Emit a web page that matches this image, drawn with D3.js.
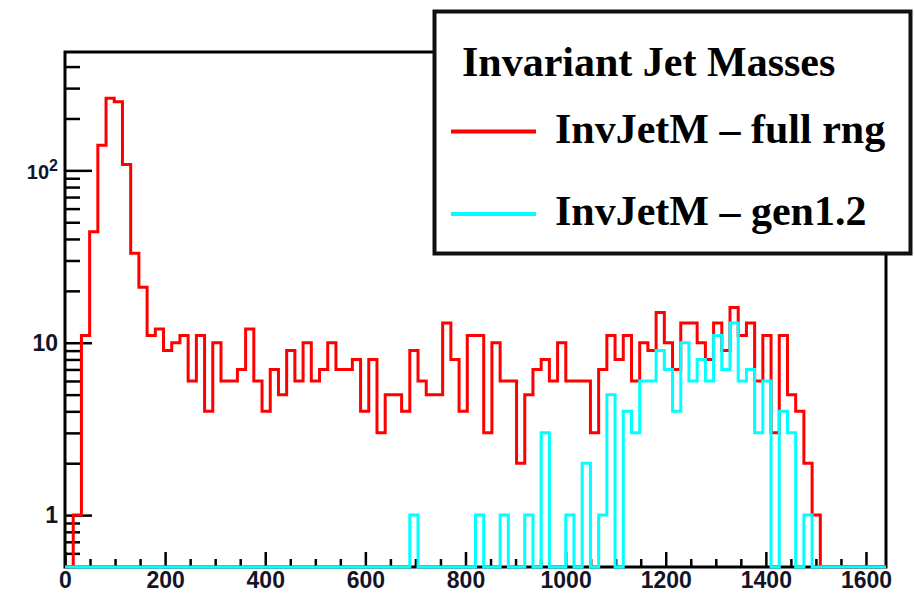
<!DOCTYPE html>
<html>
<head>
<meta charset="utf-8">
<script src="https://cdn.jsdelivr.net/npm/d3@7"></script>
<style>
  body { margin: 0; background: #fff; }
  svg { display: block; }
</style>
</head>
<body>
<svg id="chart" width="914" height="593"></svg>
<script>
// histogram binning
var nBins = 100, xLow = 0, xHigh = 1640;

// bin contents (0 = empty bin)
var fullRng = [0, 1, 11, 44, 140, 262, 250, 108, 33, 21,
  11, 12, 9, 10, 11, 6, 11, 4, 10, 6,
  6, 7, 12, 6, 4, 7, 5, 9, 6, 10,
  6, 7, 10, 7, 7, 8, 4, 8, 3, 5,
  5, 4, 9, 6, 5, 5, 13, 8, 4, 11,
  11, 3, 10, 6, 6, 2, 5, 7, 8, 6,
  10, 6, 6, 6, 3, 7, 11, 8, 11, 6,
  10, 9, 15, 10, 7, 13, 13, 10, 8, 13,
  9, 16, 11, 13, 6, 11, 3, 11, 5, 4,
  2, 1, 0, 0, 0, 0, 0, 0, 0, 0];

var gen12 = [0, 0, 0, 0, 0, 0, 0, 0, 0, 0,
  0, 0, 0, 0, 0, 0, 0, 0, 0, 0,
  0, 0, 0, 0, 0, 0, 0, 0, 0, 0,
  0, 0, 0, 0, 0, 0, 0, 0, 0, 0,
  0, 0, 1, 0, 0, 0, 0, 0, 0, 0,
  1, 0, 0, 1, 0, 0, 1, 0, 3, 0,
  0, 1, 0, 2, 0, 1, 5, 0, 4, 3,
  6, 6, 9, 7, 4, 10, 6, 8, 6, 11,
  7, 13, 6, 7, 3, 6, 0, 4, 3, 0,
  1, 0, 0, 0, 0, 0, 0, 0, 0, 0];

var seriesNames = ["InvJetM \u2013 full rng", "InvJetM \u2013 gen1.2"];
var seriesColors = ["#ff0000", "#00ffff"];
var legendTitle = "Invariant Jet Masses";

var xMajor = [0, 200, 400, 600, 800, 1000, 1200, 1400, 1600];
var xMinor = d3.range(0, 1641, 50).filter(function(d) { return d % 200 !== 0; });
var yMajor = [1, 10, 100];
var yMinor = [0.6, 0.7, 0.8, 0.9, 2, 3, 4, 5, 6, 7, 8, 9,
  20, 30, 40, 50, 60, 70, 80, 90, 200, 300, 400];

var yMin = 0.5, yMax = 486;

var frame = {left: 65, right: 886, top: 52, bottom: 567};

var svg = d3.select("#chart");

var x = d3.scaleLinear()
    .domain([xLow, xHigh])
    .range([frame.left, frame.right]);

var y = d3.scaleLog()
    .domain([yMin, yMax])
    .range([frame.bottom, frame.top]);

var binW = (xHigh - xLow) / nBins;

// frame
svg.append("rect")
    .attr("x", frame.left)
    .attr("y", frame.top)
    .attr("width", frame.right - frame.left)
    .attr("height", frame.bottom - frame.top)
    .attr("fill", "none")
    .attr("stroke", "#000")
    .attr("stroke-width", 3);

// y axis: minor then major ticks, pointing inwards
var yMinorAxis = svg.append("g")
    .attr("transform", "translate(" + frame.left + ",0)")
    .call(d3.axisLeft(y).tickValues(yMinor).tickSize(-15).tickFormat(""));

var yMajorAxis = svg.append("g")
    .attr("transform", "translate(" + frame.left + ",0)")
    .call(d3.axisLeft(y).tickValues(yMajor).tickSize(-27).tickPadding(7)
      .tickFormat(function(d) { return d === 100 ? "" : d; }));

// x axis
var xMinorAxis = svg.append("g")
    .attr("transform", "translate(0," + frame.bottom + ")")
    .call(d3.axisBottom(x).tickValues(xMinor).tickSize(-8).tickFormat(""));

var xMajorAxis = svg.append("g")
    .attr("transform", "translate(0," + frame.bottom + ")")
    .call(d3.axisBottom(x).tickValues(xMajor).tickSize(-15).tickPadding(5)
      .tickFormat(d3.format("d")));

svg.selectAll(".domain").remove();
svg.selectAll(".tick line")
    .attr("stroke", "#000")
    .attr("stroke-width", 2.5);

svg.selectAll(".tick text")
    .attr("font-family", "'Liberation Sans', Arial, sans-serif")
    .attr("font-weight", "bold")
    .attr("font-size", 23)
    .attr("fill", "#141428");

// 10^2 label with superscript
var hundred = yMajorAxis.selectAll(".tick").filter(function(d) { return d === 100; })
  .select("text")
    .attr("dy", "0.42em")
    .attr("font-size", 20);
hundred.append("tspan").text("10");
hundred.append("tspan")
    .attr("font-size", 16)
    .attr("dy", -8)
    .text("2");

// histograms as step lines
var line = d3.line()
    .x(function(d) { return x(d[0]); })
    .y(function(d) { return y(Math.max(d[1], yMin)); })
    .curve(d3.curveStepAfter);

function steps(values) {
  var pts = values.map(function(v, i) { return [xLow + i * binW, v]; });
  pts.push([xHigh, values[values.length - 1]]);
  return pts;
}

var hists = [fullRng, gen12];

svg.selectAll(".hist")
    .data(hists)
  .enter()
    .append("path")
    .attr("class", "hist")
    .attr("d", function(d) { return line(steps(d)); })
    .attr("fill", "none")
    .attr("stroke", function(d, i) { return seriesColors[i]; })
    .attr("stroke-width", 3);

// legend
var legend = svg.append("g");

legend.append("rect")
    .attr("x", 434.5)
    .attr("y", 11.5)
    .attr("width", 476)
    .attr("height", 242)
    .attr("fill", "#fff")
    .attr("stroke", "#111")
    .attr("stroke-width", 4);

legend.append("text")
    .attr("x", 462)
    .attr("y", 76)
    .attr("font-family", "'Liberation Serif', 'Times New Roman', serif")
    .attr("font-weight", "bold")
    .attr("font-size", 42)
    .attr("fill", "#000")
    .text(legendTitle);

var entries = legend.selectAll(".entry")
    .data(seriesNames)
  .enter()
    .append("g")
    .attr("class", "entry")
    .attr("transform", function(d, i) { return "translate(0," + (i === 0 ? 142.5 : 225) + ")"; });

entries.append("line")
    .attr("x1", 451)
    .attr("x2", 536)
    .attr("y1", -11)
    .attr("y2", -11)
    .attr("stroke", function(d, i) { return seriesColors[i]; })
    .attr("stroke-width", 4);

entries.append("text")
    .attr("x", 555)
    .attr("y", 0)
    .attr("font-family", "'Liberation Serif', 'Times New Roman', serif")
    .attr("font-weight", "bold")
    .attr("font-size", 42)
    .attr("fill", "#000")
    .text(function(d) { return d; });
</script>
</body>
</html>
